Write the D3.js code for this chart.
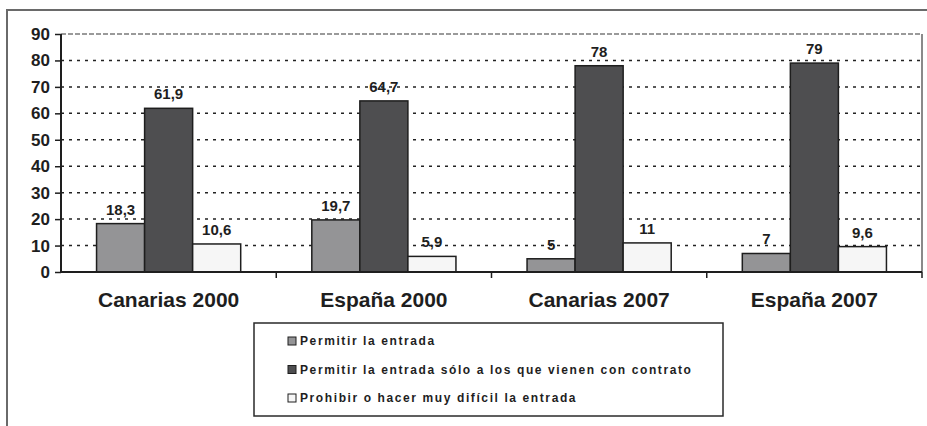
<!DOCTYPE html>
<html>
<head>
<meta charset="utf-8">
<script src="https://cdn.jsdelivr.net/npm/d3@7"></script>
<style>
  body { margin: 0; background: #fff; }
  svg { display: block; font-family: Arial, 'Liberation Sans', sans-serif; }
</style>
</head>
<body>
<svg id="chart" width="927" height="426"></svg>
<script>
////////// Data //////////
const categories = ['Canarias 2000', 'España 2000', 'Canarias 2007', 'España 2007'];
const seriesNames = [
	'Permitir la entrada',
	'Permitir la entrada sólo a los que vienen con contrato',
	'Prohibir o hacer muy difícil la entrada'
];
const permitir = [18.3, 19.7, 5, 7];
const contrato = [61.9, 64.7, 78, 79];
const prohibir = [10.6, 5.9, 11, 9.6];
const yTicks = [0, 10, 20, 30, 40, 50, 60, 70, 80, 90];

////////// Defs //////////
const seriesValues = [permitir, contrato, prohibir];
const seriesColors = ['#949496', '#4e4e50', '#f6f6f6'];
const plot = { left: 61, right: 922, top: 34, bottom: 272 };
const strokeColor = '#1e1e1e';
const fmt = v => String(v).replace('.', ',');

const svg = d3.select('#chart');

// outer frame (cropped on right & bottom)
svg.append('path')
	.attr('d', 'M7,426 V10 H927')
	.attr('fill', 'none')
	.attr('stroke', '#6a6a6a')
	.attr('stroke-width', 2);

const x0 = d3.scaleBand()
	.domain(categories)
	.range([plot.left, plot.right]);

const x1 = d3.scaleBand()
	.domain(d3.range(seriesNames.length))
	.range([0, x0.bandwidth()])
	.paddingOuter(0.74);

const y = d3.scaleLinear()
	.domain([0, 90])
	.range([plot.bottom, plot.top]);

// gridlines
svg.append('g').selectAll('line')
	.data(yTicks.filter(t => t > 0 && t < 90))
	.enter().append('line')
		.attr('x1', plot.left)
		.attr('x2', plot.right)
		.attr('y1', d => y(d))
		.attr('y2', d => y(d))
		.attr('stroke', '#222')
		.attr('stroke-width', 1.5)
		.attr('stroke-dasharray', '3,5');

// plot area top & right border
svg.append('line')
	.attr('x1', plot.left).attr('x2', plot.right)
	.attr('y1', y(90)).attr('y2', y(90))
	.attr('stroke', '#7a7a7a')
	.attr('stroke-width', 1.5)
	.attr('stroke-dasharray', '5,2');
svg.append('line')
	.attr('x1', plot.right).attr('x2', plot.right)
	.attr('y1', y(90)).attr('y2', plot.bottom)
	.attr('stroke', '#8a8a8a')
	.attr('stroke-width', 2);

// bars
const groups = svg.append('g').selectAll('g')
	.data(categories)
	.enter().append('g')
		.attr('transform', d => `translate(${x0(d)},0)`);

groups.selectAll('rect')
	.data((d, i) => seriesValues.map((s, k) => ({ k, v: s[i] })))
	.enter().append('rect')
		.attr('x', d => x1(d.k))
		.attr('width', x1.bandwidth())
		.attr('y', d => y(d.v))
		.attr('height', d => y(0) - y(d.v))
		.attr('fill', d => seriesColors[d.k])
		.attr('stroke', strokeColor)
		.attr('stroke-width', 1.5);

groups.selectAll('text')
	.data((d, i) => seriesValues.map((s, k) => ({ k, v: s[i] })))
	.enter().append('text')
		.attr('x', d => x1(d.k) + x1.bandwidth() / 2)
		.attr('y', d => y(d.v) - 9)
		.attr('text-anchor', 'middle')
		.style('font', 'bold 15px Arial, "Liberation Sans", sans-serif')
		.attr('fill', '#1e1e1e')
		.text(d => fmt(d.v));

// y axis
const yAxis = svg.append('g')
	.attr('transform', `translate(${plot.left},0)`)
	.call(d3.axisLeft(y).tickValues(yTicks).tickSize(6).tickPadding(5));
yAxis.select('.domain').attr('stroke', '#1e1e1e').attr('stroke-width', 2).attr('d', `M0,${plot.top}V${plot.bottom}`);
yAxis.selectAll('.tick line').attr('stroke', '#1e1e1e').attr('stroke-width', 1.5);
yAxis.selectAll('.tick text')
	.style('font', 'bold 17px Arial, "Liberation Sans", sans-serif')
	.attr('fill', '#1e1e1e');

// x axis
const xAxis = svg.append('g')
	.attr('transform', `translate(0,${plot.bottom})`);
xAxis.append('line')
	.attr('x1', plot.left).attr('x2', plot.right)
	.attr('stroke', '#1e1e1e').attr('stroke-width', 2);
xAxis.selectAll('.sep')
	.data(categories.slice(1).map(c => x0(c)).concat([plot.right]))
	.enter().append('line')
		.attr('class', 'sep')
		.attr('x1', d => d).attr('x2', d => d)
		.attr('y1', 0).attr('y2', 6)
		.attr('stroke', '#1e1e1e').attr('stroke-width', 1.5);
xAxis.selectAll('text')
	.data(categories)
	.enter().append('text')
		.attr('x', d => x0(d) + x0.bandwidth() / 2)
		.attr('y', 35)
		.attr('text-anchor', 'middle')
		.style('font', 'bold 21px Arial, "Liberation Sans", sans-serif')
		.attr('fill', '#1e1e1e')
		.text(d => d);

// legend
const legend = svg.append('g').attr('transform', 'translate(254,323)');
legend.append('rect')
	.attr('width', 469).attr('height', 93)
	.attr('fill', '#fff')
	.attr('stroke', '#2a2a2a')
	.attr('stroke-width', 1.5);
const items = legend.selectAll('.item')
	.data(seriesNames)
	.enter().append('g')
		.attr('class', 'item')
		.attr('transform', (d, i) => `translate(34,${18 + i * 28.5})`);
items.append('rect')
	.attr('x', 0).attr('y', -4)
	.attr('width', 8).attr('height', 8)
	.attr('fill', (d, i) => seriesColors[i])
	.attr('stroke', strokeColor)
	.attr('stroke-width', 1);
items.append('text')
	.attr('x', 12)
	.attr('dy', '0.35em')
	.style('font', 'bold 12px Arial, "Liberation Sans", sans-serif')
	.style('letter-spacing', '1.6px')
	.attr('fill', '#1e1e1e')
	.text(d => d);
</script>
</body>
</html>
